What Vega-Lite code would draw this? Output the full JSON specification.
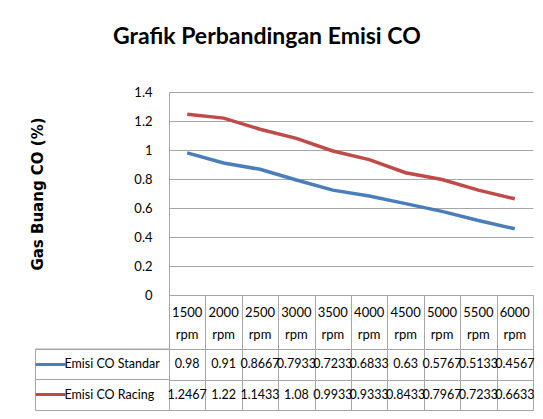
{
  "$schema": "https://vega.github.io/schema/vega-lite/v6.json",
  "padding": {"left": 30, "top": 26, "right": 0, "bottom": 0},
  "background": "white",
  "title": {"text": "Grafik Perbandingan Emisi CO", "font": "Lato", "fontSize": 23, "fontWeight": "bold", "color": "black", "anchor": "middle", "offset": 37, "dx": -16},
  "datasets": {
    "co": [
      {"rpm": "1500 rpm", "series": "Emisi CO Standar", "value": 0.98},
      {"rpm": "2000 rpm", "series": "Emisi CO Standar", "value": 0.91},
      {"rpm": "2500 rpm", "series": "Emisi CO Standar", "value": 0.8667},
      {"rpm": "3000 rpm", "series": "Emisi CO Standar", "value": 0.7933},
      {"rpm": "3500 rpm", "series": "Emisi CO Standar", "value": 0.7233},
      {"rpm": "4000 rpm", "series": "Emisi CO Standar", "value": 0.6833},
      {"rpm": "4500 rpm", "series": "Emisi CO Standar", "value": 0.63},
      {"rpm": "5000 rpm", "series": "Emisi CO Standar", "value": 0.5767},
      {"rpm": "5500 rpm", "series": "Emisi CO Standar", "value": 0.5133},
      {"rpm": "6000 rpm", "series": "Emisi CO Standar", "value": 0.4567},
      {"rpm": "1500 rpm", "series": "Emisi CO Racing", "value": 1.2467},
      {"rpm": "2000 rpm", "series": "Emisi CO Racing", "value": 1.22},
      {"rpm": "2500 rpm", "series": "Emisi CO Racing", "value": 1.1433},
      {"rpm": "3000 rpm", "series": "Emisi CO Racing", "value": 1.08},
      {"rpm": "3500 rpm", "series": "Emisi CO Racing", "value": 0.9933},
      {"rpm": "4000 rpm", "series": "Emisi CO Racing", "value": 0.9333},
      {"rpm": "4500 rpm", "series": "Emisi CO Racing", "value": 0.8433},
      {"rpm": "5000 rpm", "series": "Emisi CO Racing", "value": 0.7967},
      {"rpm": "5500 rpm", "series": "Emisi CO Racing", "value": 0.7233},
      {"rpm": "6000 rpm", "series": "Emisi CO Racing", "value": 0.6633}
    ]
  },
  "columns": 2,
  "spacing": 0,
  "bounds": "flush",
  "concat": [
    {
      "width": 134, "height": 203,
      "data": {"values": []},
      "mark": "point"
    },
    {
      "width": 364, "height": 203,
      "data": {"name": "co"},
      "mark": {"type": "line", "strokeWidth": 3.5},
      "encoding": {
        "x": {"field": "rpm", "type": "nominal", "sort": null, "bandPosition": 0.5,
              "scale": {"type": "band", "paddingInner": 0, "paddingOuter": 0}, "axis": null},
        "y": {"field": "value", "type": "quantitative", "scale": {"domain": [0, 1.4]},
              "axis": {"values": [0, 0.2, 0.4, 0.6, 0.8, 1, 1.2, 1.4], "format": "~g",
                       "title": "Gas Buang CO (%)", "titleFont": "DejaVu Sans", "titleFontSize": 15,
                       "titleFontWeight": "bold", "titleColor": "black", "titlePadding": 88,
                       "ticks": false, "tickSize": 0, "labelPadding": 17, "labelFontSize": 13,
                       "labelFont": "Lato", "labelColor": "black",
                       "domain": true, "domainColor": "#a6a6a6", "grid": true, "gridColor": "#a6a6a6"}},
        "color": {"field": "series", "type": "nominal",
                  "scale": {"domain": ["Emisi CO Standar", "Emisi CO Racing"], "range": ["#4a7ebb", "#be4b48"]},
                  "legend": null}
      }
    },
    {
      "width": 134, "height": 54,
      "data": {"values": []},
      "mark": "point"
    },
    {
      "width": 364, "height": 54,
      "view": {"stroke": "#a6a6a6"},
      "data": {"name": "co"},
      "transform": [{"filter": "datum.series == 'Emisi CO Standar'"}],
      "mark": {"type": "text", "font": "Lato", "fontSize": 13, "lineBreak": " ", "lineHeight": 22, "dy": -9, "color": "black"},
      "encoding": {
        "x": {"field": "rpm", "type": "nominal", "sort": null, "bandPosition": 0.5,
              "scale": {"type": "band", "paddingInner": 0, "paddingOuter": 0},
              "axis": {"orient": "top", "grid": true, "gridColor": "#a6a6a6", "tickBand": "extent", "labels": false, "ticks": false, "domain": false, "title": null}},
        "text": {"field": "rpm", "type": "nominal"}
      }
    },
    {
      "width": 134, "height": 61,
      "view": {"stroke": "#a6a6a6"},
      "data": {"name": "co"},
      "transform": [{"filter": "datum.rpm == '1500 rpm'"}],
      "mark": {"type": "rule", "color": "#a6a6a6"},
      "encoding": {
        "y": {"field": "series", "type": "nominal", "sort": ["Emisi CO Standar", "Emisi CO Racing"], "bandPosition": 0,
              "scale": {"type": "band", "paddingInner": 0, "paddingOuter": 0},
              "axis": {"title": null, "domain": false, "grid": false, "ticks": true, "tickSize": -30, "tickWidth": 3,
                       "tickColor": {"condition": {"test": "datum.label == 'Emisi CO Standar'", "value": "#4a7ebb"}, "value": "#be4b48"},
                       "labelAlign": "left", "labelPadding": 1, "labelFontSize": 12.5, "labelColor": "black",
                       "labelFont": "Lato", "labelLimit": 0}}
      }
    },
    {
      "width": 364, "height": 61,
      "view": {"stroke": "#a6a6a6"},
      "data": {"name": "co"},
      "mark": {"type": "text", "font": "Lato", "fontSize": 12.5, "color": "black"},
      "encoding": {
        "x": {"field": "rpm", "type": "nominal", "sort": null, "bandPosition": 0.5,
              "scale": {"type": "band", "paddingInner": 0, "paddingOuter": 0},
              "axis": {"orient": "top", "grid": true, "gridColor": "#a6a6a6", "tickBand": "extent", "labels": false, "ticks": false, "domain": false, "title": null}},
        "y": {"field": "series", "type": "nominal", "sort": ["Emisi CO Standar", "Emisi CO Racing"], "bandPosition": 0.5,
              "scale": {"type": "band", "paddingInner": 0, "paddingOuter": 0},
              "axis": {"grid": true, "gridColor": "#a6a6a6", "tickBand": "extent", "labels": false, "ticks": false, "domain": false, "title": null}},
        "text": {"field": "value", "type": "quantitative", "format": "~g"}
      }
    }
  ],
  "config": {"view": {"stroke": null}}
}
